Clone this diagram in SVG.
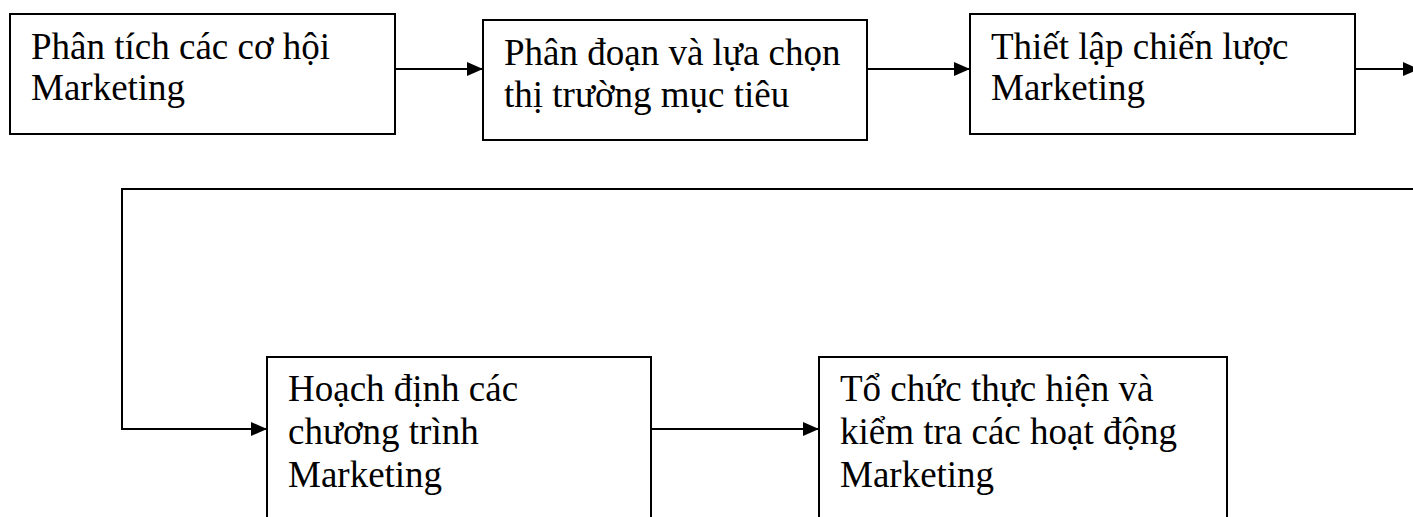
<svg xmlns="http://www.w3.org/2000/svg" width="1413" height="517" viewBox="0 0 1413 517">
<style>
.box{fill:#fff;stroke:#000;stroke-width:2}
.lbl{font-family:"Liberation Serif","Times New Roman",serif;font-size:37px;fill:#000}
.conn{fill:none;stroke:#000;stroke-width:2}
</style>
<defs>
<marker id="ah" markerUnits="userSpaceOnUse" markerWidth="16" markerHeight="14" refX="16" refY="7" orient="auto">
<path d="M0,0 L16,7 L0,14 Z" fill="#000"/>
</marker>
</defs>
<rect width="1413" height="517" fill="#fff"/>
<g id="connectors">
<line class="conn" x1="395" y1="69" x2="483" y2="69" marker-end="url(#ah)"/>
<line class="conn" x1="867" y1="69" x2="970" y2="69" marker-end="url(#ah)"/>
<line class="conn" x1="1347" y1="69" x2="1419" y2="69" marker-end="url(#ah)"/>
<polyline class="conn" points="1415,189 122,189 122,429 267,429" marker-end="url(#ah)"/>
<line class="conn" x1="651" y1="429" x2="819" y2="429" marker-end="url(#ah)"/>
</g>
<g id="n1">
<rect class="box" x="10" y="14" width="385" height="120"/>
<text class="lbl" x="31" y="59">Phân tích các cơ hội</text>
<text class="lbl" x="31" y="100">Marketing</text>
</g>
<g id="n2">
<rect class="box" x="483" y="20" width="384" height="120"/>
<text class="lbl" x="504" y="65">Phân đoạn và lựa chọn</text>
<text class="lbl" x="504" y="107">thị trường mục tiêu</text>
</g>
<g id="n3">
<rect class="box" x="970" y="14" width="385" height="120"/>
<text class="lbl" x="991" y="59">Thiết lập chiến lược</text>
<text class="lbl" x="991" y="100">Marketing</text>
</g>
<g id="n4">
<rect class="box" x="267" y="357" width="384" height="180"/>
<text class="lbl" x="288" y="401">Hoạch định các</text>
<text class="lbl" x="288" y="444">chương trình</text>
<text class="lbl" x="288" y="487">Marketing</text>
</g>
<g id="n5">
<rect class="box" x="819" y="357" width="408" height="180"/>
<text class="lbl" x="840" y="401">Tổ chức thực hiện và</text>
<text class="lbl" x="840" y="444">kiểm tra các hoạt động</text>
<text class="lbl" x="840" y="487">Marketing</text>
</g>
</svg>
